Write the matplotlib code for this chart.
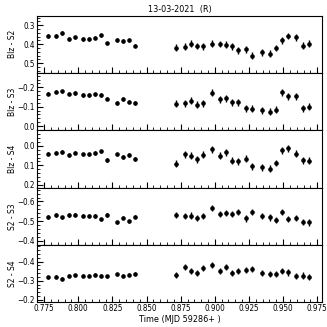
import numpy as np
import matplotlib
matplotlib.use('Agg')
from matplotlib import pyplot as plt
from matplotlib.ticker import AutoMinorLocator

# Waktu pengamatan (MJD 59286+)
t = [0.7779, 0.7840, 0.7884, 0.7930, 0.7974, 0.8032, 0.8078, 0.8124, 0.8166, 0.8209,
     0.8285, 0.8331, 0.8375, 0.8418,
     0.8717, 0.8778, 0.8822, 0.8868, 0.8912, 0.8980, 0.9038, 0.9082, 0.9128, 0.9172,
     0.9232, 0.9276, 0.9347, 0.9405, 0.9449, 0.9495, 0.9539, 0.9597, 0.9643, 0.9689]

blz_s2 = [0.357, 0.357, 0.342, 0.373, 0.364, 0.373, 0.373, 0.366, 0.354, 0.396,
          0.378, 0.383, 0.380, 0.408,
          0.418, 0.413, 0.397, 0.410, 0.411, 0.397, 0.399, 0.404, 0.411, 0.432,
          0.427, 0.462, 0.443, 0.450, 0.420, 0.380, 0.357, 0.364, 0.408, 0.397]
blz_s3 = [-0.167, -0.178, -0.179, -0.167, -0.171, -0.160, -0.160, -0.164, -0.160, -0.141,
          -0.119, -0.140, -0.126, -0.119,
          -0.114, -0.117, -0.131, -0.109, -0.117, -0.171, -0.138, -0.143, -0.122, -0.122,
          -0.093, -0.090, -0.081, -0.074, -0.084, -0.174, -0.155, -0.153, -0.093, -0.100]
blz_s4 = [0.039, 0.035, 0.032, 0.047, 0.035, 0.044, 0.044, 0.037, 0.028, 0.072,
          0.044, 0.056, 0.047, 0.068,
          0.091, 0.042, 0.051, 0.068, 0.046, 0.016, 0.051, 0.033, 0.077, 0.079,
          0.065, 0.104, 0.109, 0.118, 0.088, 0.021, 0.012, 0.040, 0.074, 0.077]
s2_s3 = [-0.521, -0.531, -0.519, -0.531, -0.533, -0.528, -0.528, -0.526, -0.510, -0.531,
         -0.493, -0.517, -0.500, -0.522,
         -0.531, -0.526, -0.528, -0.517, -0.526, -0.566, -0.538, -0.543, -0.536, -0.548,
         -0.514, -0.547, -0.526, -0.519, -0.505, -0.548, -0.510, -0.516, -0.495, -0.493]
s2_s4 = [-0.317, -0.320, -0.310, -0.325, -0.329, -0.327, -0.327, -0.330, -0.327, -0.323,
         -0.334, -0.325, -0.332, -0.337,
         -0.330, -0.370, -0.350, -0.341, -0.367, -0.383, -0.350, -0.370, -0.339, -0.350,
         -0.358, -0.360, -0.339, -0.334, -0.334, -0.351, -0.343, -0.325, -0.327, -0.318]

# Galat: kecil di awal malam, lebih besar di paruh kedua
err_blz = [0.009] * 14 + [0.018] * 20
err_cmp = [0.008] * 14 + [0.016] * 20

panels = [
    ('Blz - S2', blz_s2, err_blz, (0.552, 0.25), [0.3, 0.4, 0.5]),
    ('Blz - S3', blz_s3, err_blz, (0.022, -0.274), [-0.2, -0.1, 0.0]),
    ('Blz - S4', blz_s4, err_blz, (0.215, -0.081), [0.0, 0.1, 0.2]),
    ('S2 - S3', s2_s3, err_cmp, (-0.379, -0.671), [-0.6, -0.5, -0.4]),
    ('S2 - S4', s2_s4, err_cmp, (-0.188, -0.487), [-0.4, -0.3, -0.2]),
]

plt.rcParams['font.family'] = ['DejaVu Sans']
plt.rcParams['font.stretch'] = 'condensed'
plt.rcParams['font.size'] = 6
fig, axes = plt.subplots(5, 1, sharex=True, figsize=(3.27, 3.27), dpi=100)
fig.subplots_adjust(left=0.113, right=0.985, top=0.952, bottom=0.076, hspace=0)

for ax, (label, y, e, ylim, yt) in zip(axes, panels):
    ax.errorbar(t, y, yerr=e, fmt='o', color='black', ms=2.3, elinewidth=1, capsize=0)
    ax.set_ylim(*ylim)
    ax.set_yticks(yt)
    ax.set_ylabel(label, fontsize=6)
    ax.yaxis.set_label_coords(-0.07, 0.5)
    ax.yaxis.set_minor_locator(AutoMinorLocator(5))
    ax.xaxis.set_minor_locator(AutoMinorLocator(5))
    ax.tick_params(which='both', direction='in', labelsize=5.8, pad=1.5)
    ax.tick_params(which='major', length=4)
    ax.tick_params(which='minor', length=2)

axes[0].set_xlim(0.7697, 0.9786)
axes[-1].set_xticks([0.775, 0.8, 0.825, 0.85, 0.875, 0.9, 0.925, 0.95, 0.975])
axes[-1].set_xlabel('Time (MJD 59286+ )', fontsize=6.5, labelpad=1)
axes[0].set_title('13-03-2021  (R)', fontsize=6.5, pad=3)

fig.savefig('out.png', dpi=100)
